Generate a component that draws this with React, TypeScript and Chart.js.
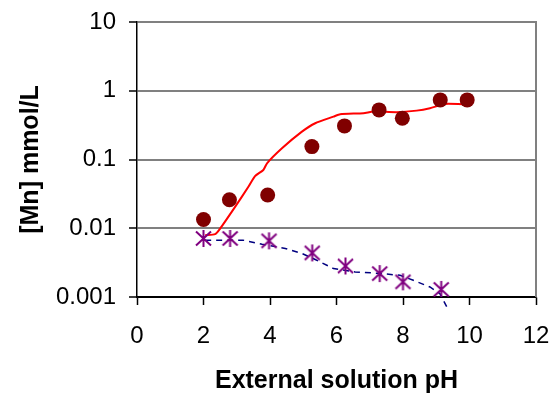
import React, { useEffect, useRef } from "react";
import { Chart, registerables } from "chart.js";
Chart.register(...registerables);

// Measured Mn concentration (circles)
const measPH = [2.0, 2.78, 3.93, 5.26, 6.24, 7.28, 7.98, 9.12, 9.93];
const measMn = [0.0134, 0.026, 0.0304, 0.154, 0.308, 0.527, 0.398, 0.736, 0.736];

// Model curve (red)
const fitPH = [2.05, 2.35, 2.5, 2.95, 3.35, 3.55, 3.8, 3.91, 4.36, 4.96, 5.36, 5.91, 6.11, 6.81, 7.11, 7.81, 8.41, 8.81, 9.27, 9.97];
const fitMn = [0.0079, 0.0082, 0.0099, 0.0205, 0.0401, 0.0574, 0.0703, 0.0881, 0.1455, 0.254, 0.337, 0.421, 0.456, 0.471, 0.498, 0.488, 0.514, 0.557, 0.644, 0.63];

// Second measured series (stars)
const starPH = [2.0, 2.8, 3.97, 5.27, 6.27, 7.3, 8.0, 9.15];
const starMn = [0.0071, 0.0071, 0.00656, 0.00438, 0.00283, 0.00219, 0.00166, 0.00129];

// Second model curve (dashed blue)
const dashPH = [2.05, 3.19, 3.76, 4.46, 4.96, 5.36, 5.91, 6.56, 7.11, 7.91, 8.31, 8.81, 9.11, 9.32];
const dashMn = [0.00671, 0.00671, 0.00586, 0.00508, 0.0043, 0.00351, 0.00259, 0.00231, 0.00224, 0.00207, 0.00175, 0.0014, 0.00112, 0.000714];

const yTickValues = [0.001, 0.01, 0.1, 1, 10];
const yTickLabels = ["0.001", "0.01", "0.1", "1", "10"];
const xMin = 0;
const xMax = 12;
const xStep = 2;

function makeStar(): HTMLCanvasElement {
  const c = document.createElement("canvas");
  c.width = 19;
  c.height = 19;
  const g = c.getContext("2d")!;
  g.strokeStyle = "#800080";
  g.lineWidth = 2;
  g.beginPath();
  g.moveTo(9.5, 1);
  g.lineTo(9.5, 18);
  g.moveTo(2, 2.5);
  g.lineTo(17, 16.5);
  g.moveTo(17, 2.5);
  g.lineTo(2, 16.5);
  g.stroke();
  return c;
}

const pts = (xs: number[], ys: number[]) => xs.map((x, i) => ({ x, y: ys[i] }));

export default function App() {
  const ref = useRef<HTMLCanvasElement>(null);
  useEffect(() => {
    const star = makeStar();
    const rightBorder = {
      id: "rightBorder",
      beforeDatasetsDraw(chart: any) {
        const { ctx, chartArea } = chart;
        ctx.save();
        ctx.strokeStyle = "#808080";
        ctx.lineWidth = 2;
        ctx.beginPath();
        ctx.moveTo(chartArea.right, chartArea.top - 1);
        ctx.lineTo(chartArea.right, chartArea.bottom);
        ctx.stroke();
        ctx.restore();
      },
    };
    const chart = new Chart(ref.current!, {
      type: "scatter",
      data: {
        datasets: [
          {
            data: pts(measPH, measMn),
            showLine: false,
            pointRadius: 7.5,
            pointBackgroundColor: "#800000",
            pointBorderColor: "#800000",
            pointBorderWidth: 0,
            order: 1,
          },
          {
            data: pts(starPH, starMn),
            showLine: false,
            pointStyle: star as any,
            pointRadius: 9,
            order: 2,
          },
          {
            data: pts(fitPH, fitMn),
            showLine: true,
            borderColor: "#ff0000",
            borderWidth: 2,
            pointRadius: 0,
            tension: 0.2,
            order: 3,
          },
          {
            data: pts(dashPH, dashMn),
            showLine: true,
            borderColor: "#000080",
            borderWidth: 1.5,
            borderDash: [6, 5],
            pointRadius: 0,
            tension: 0,
            clip: false as any,
            order: 4,
          },
        ],
      },
      options: {
        responsive: false,
        animation: false,
        events: [],
        layout: { padding: { top: 22, right: 15, left: 0, bottom: 0 } },
        plugins: { legend: { display: false }, tooltip: { enabled: false } },
        scales: {
          x: {
            type: "linear",
            min: xMin,
            max: xMax,
            ticks: { stepSize: xStep, color: "#000", font: { family: "Liberation Sans", size: 24 }, padding: 17 },
            grid: { drawOnChartArea: false, drawTicks: true, tickLength: 8, tickColor: "#000", tickWidth: 1.5 },
            border: { color: "#000", width: 1.5 },
            title: {
              display: true,
              text: "External solution pH",
              color: "#000",
              font: { family: "Liberation Sans", size: 25, weight: "bold" },
              padding: { top: 0, bottom: 0 },
            },
            afterFit(scale: any) {
              scale.height = 99;
              scale.paddingRight = 0;
              scale.paddingLeft = 0;
            },
          },
          y: {
            type: "logarithmic",
            min: 0.001,
            max: 10,
            afterBuildTicks(scale: any) {
              scale.ticks = yTickValues.map((v) => ({ value: v }));
            },
            ticks: {
              color: "#000",
              font: { family: "Liberation Sans", size: 24 },
              padding: 13,
              callback: (v: any) => {
                const i = yTickValues.findIndex((t) => Math.abs(t - Number(v)) / t < 1e-6);
                return i >= 0 ? yTickLabels[i] : "";
              },
            },
            grid: {
              color: (c: any) => (c.index === 0 ? "#000" : "#808080"),
              lineWidth: 2,
              tickLength: 8,
              tickColor: "#000",
              tickWidth: 1.5,
            },
            border: { color: "#000", width: 1.5 },
            title: {
              display: true,
              text: "[Mn] mmol/L",
              color: "#000",
              font: { family: "Liberation Sans", size: 25, weight: "bold" },
              padding: { top: 16, bottom: 0 },
            },
            afterFit(scale: any) {
              scale.width = 137;
              scale.paddingTop = 0;
              scale.paddingBottom = 0;
            },
          },
        },
      },
      plugins: [rightBorder],
    });
    return () => chart.destroy();
  }, []);
  return (
    <div style={{ position: "absolute", left: 0, top: 0, width: 551, height: 396, background: "#fff" }}>
      <canvas ref={ref} width={551} height={396} />
    </div>
  );
}
